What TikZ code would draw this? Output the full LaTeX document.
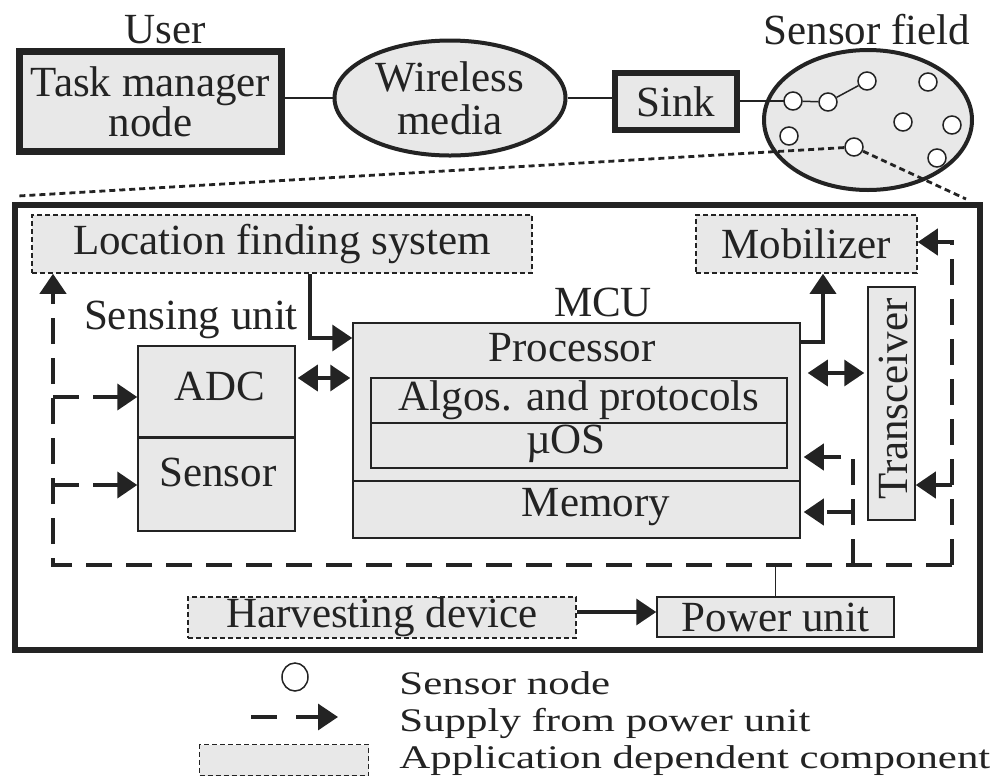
\documentclass[tikz,border=0pt]{standalone}
\usepackage{fontspec}
\setmainfont{Liberation Serif}
\usetikzlibrary{arrows.meta,shapes.geometric,calc}
\definecolor{boxfill}{RGB}{232,232,232}
\definecolor{ink}{RGB}{35,35,35}
\begin{document}
\begin{tikzpicture}[x=0.5pt,y=-0.5pt,
  every node/.style={font=\fontsize{21.5}{20}\selectfont, text=ink, inner sep=0pt, align=center},
  thinbox/.style={draw=ink, line width=0.75pt, fill=boxfill},
  appbox/.style={draw=ink, line width=0.75pt, fill=boxfill, dash pattern=on 2.5pt off 1.5pt},
  thickbox/.style={draw=ink, fill=boxfill},
  link/.style={draw=ink, line width=0.75pt},
  sarrow/.style={-{Triangle[length=10pt,width=13pt]}},
  darrow/.style={{Triangle[length=10pt,width=13pt]}-{Triangle[length=10pt,width=13pt]}},
  sig/.style={draw=ink, line width=1.7pt},
  supply/.style={draw=ink, line width=2pt, dash pattern=on 13pt off 7pt},
  dotline/.style={draw=ink, line width=1.4pt, dash pattern=on 3pt off 2pt},
  snode/.style={circle, draw=ink, line width=0.75pt, fill=white, minimum size=9pt},
  lgtext/.style={anchor=base west, font=\fontsize{16.5}{18}\selectfont}]
\useasboundingbox (0,0) rectangle (998,778);

% ---------- top row ----------
\node (userlbl) at (165,30) {User};
\node[thickbox, line width=3.5pt, minimum width=131pt, minimum height=50pt] (tm) at (150.5,101.5) {Task manager\\node};
\node[ellipse, draw=ink, line width=2pt, fill=boxfill, minimum width=115.5pt, minimum height=57.5pt, font=\fontsize{21.5}{21.5}\selectfont] (wm) at (450,98) {Wireless\\media};
\node[thickbox, line width=3pt, minimum width=61pt, minimum height=28.5pt] (sink) at (676,101.5) {Sink};
\node[ellipse, draw=ink, line width=2pt, fill=boxfill, minimum width=104pt, minimum height=70pt] (field) at (868,120) {};
\node (fieldlbl) at (867,30) {Sensor field};

\draw[link] (tm.east |- wm.west) -- (wm.west);
\draw[link] (wm.east) -- (wm.east -| sink.west);

% ---------- big box ----------
\node[draw=ink, line width=3pt, minimum width=482.5pt, minimum height=222.5pt] (big) at (497.5,427.5) {};

% sensor nodes (coordinates first for lines)
\coordinate (p1) at (793,101);
\coordinate (p8) at (854,147);
\coordinate (dl) at (18,196);
\coordinate (dr) at (966,199);
\draw[link] (sink.east |- p1) -- (p1);
\draw[dotline] (p8) -- (dl);
\draw[dotline] (p8) -- (dr);

\node[snode] (s1) at (793,101) {};
\node[snode] (s2) at (828,102) {};
\node[snode] (s3) at (867,81) {};
\node[snode] (s4) at (928,82) {};
\node[snode] (s5) at (903,122) {};
\node[snode] (s6) at (952,125) {};
\node[snode] (s7) at (789,136) {};
\node[snode] (s8) at (854,147) {};
\node[snode] (s9) at (937,158) {};
\draw[link] (s1) -- (s2);
\draw[link] (s2) -- (s3);

% ---------- components ----------
\node[appbox, minimum width=250pt, minimum height=29pt] (loc) at (282,244) {Location finding system};
\node[appbox, minimum width=110.5pt, minimum height=29pt] (mob) at (806.5,244) {Mobilizer};

\node (mculbl) at (603,302) {MCU};
\node[thinbox, minimum width=223.5pt, minimum height=79pt] (proc) at (576.5,402) {};
\node[thinbox, minimum width=223.5pt, minimum height=28.5pt] (mem) at (576.5,509.5) {};
\node (proctxt) at (572,348) {Processor};
\node (memtxt) at (596,507) {Memory};
\node[thinbox, minimum width=208pt, minimum height=22.5pt] (algo) at (579,400.5) {Algos. and protocols};
\node[thinbox, minimum width=208pt, minimum height=22.5pt] (os) at (579,445.5) {};
\node (ostxt) at (566,444) {µOS};

\node (sulbl) at (191,320) {Sensing unit};
\node[thinbox, minimum width=78.5pt, minimum height=45.5pt] (adc) at (216.5,391.5) {};
\node[thinbox, minimum width=78.5pt, minimum height=47pt] (sens) at (216.5,484) {};
\draw[draw=ink, line width=1.3pt] (adc.south west) -- (adc.south east);
\node (adctxt) at (220,386) {ADC};
\node (senstxt) at (218,472) {Sensor};

\node[thinbox, minimum width=23.5pt, minimum height=116.5pt] (trx) at (891.5,403.5) {};
\node[rotate=90] (trxtxt) at (893,399) {Transceiver};

\node[appbox, minimum width=194pt, minimum height=20.5pt] (harv) at (382,617.5) {Harvesting device};
\node[thinbox, minimum width=118.5pt, minimum height=20pt] (pwr) at (775.5,617) {Power unit};

% ---------- signal arrows ----------
\coordinate (c1) at (310,338);
\draw[sig, sarrow] (c1 |- loc.south) |- (c1 -| proc.west);
\coordinate (c2) at (0,378);
\draw[sig, darrow, shorten <=1pt, shorten >=1pt] (c2 -| adc.east) -- (c2 -| proc.west);
\coordinate (c3) at (823,342);
\draw[sig, sarrow] (c3 -| proc.east) -| (c3 |- mob.south);
\coordinate (c4) at (0,373);
\draw[sig, darrow, shorten <=3.5pt, shorten >=1.5pt] (c4 -| proc.east) -- (c4 -| trx.west);
\coordinate (c5) at (0,612);
\draw[sig, sarrow] (c5 -| harv.east) -- (c5 -| pwr.west);

% ---------- power supply ----------
\coordinate (pl) at (53,565);
\coordinate (pr) at (952,565);
\coordinate (pt) at (952,242);
\coordinate (pin) at (853,565);
\draw[link] (pwr.north) -- (pwr.north |- pl);
\draw[supply, sarrow] (pr) -- (pl) -- (pl |- loc.south);
\draw[supply, sarrow] (pr) -- (pt) -- (pt -| mob.east);
\coordinate (b1) at (53,397);
\coordinate (b2) at (53,485);
\coordinate (b3) at (952,485);
\draw[supply, sarrow] (b1) -- (b1 -| adc.west);
\draw[supply, sarrow] (b2) -- (b2 -| sens.west);
\draw[supply, sarrow] (b3) -- (b3 -| trx.east);
\coordinate (c6) at (0,457);
\coordinate (c7) at (853,512);
\draw[supply, sarrow, shorten >=1.5pt] (pin) -- (pin |- c6) -- (c6 -| proc.east);
\draw[supply, sarrow, shorten >=1.5pt] (c7) -- (c7 -| mem.east);

% ---------- legend ----------
\node[ellipse, draw=ink, line width=0.75pt, minimum width=13pt, minimum height=14pt] (lgc) at (295,677) {};
\node[lgtext] (lg1) at (399,694) {\scalebox{1.3}[1]{Sensor node}};
\node[lgtext] (lg2) at (399,731) {\scalebox{1.3}[1]{Supply from power unit}};
\node[lgtext] (lg3) at (399,768) {\scalebox{1.3}[1]{Application dependent component}};
\coordinate (la1) at (251,717);
\coordinate (la2) at (277,717);
\coordinate (la3) at (296,717);
\coordinate (la4) at (338,717);
\draw[sig, line width=2pt] (la1) -- (la2);
\draw[sig, sarrow] (la3) -- (la4);
\node[appbox, minimum width=84.5pt, minimum height=15.5pt] (lgbox) at (284,760) {};
\end{tikzpicture}
\end{document}
